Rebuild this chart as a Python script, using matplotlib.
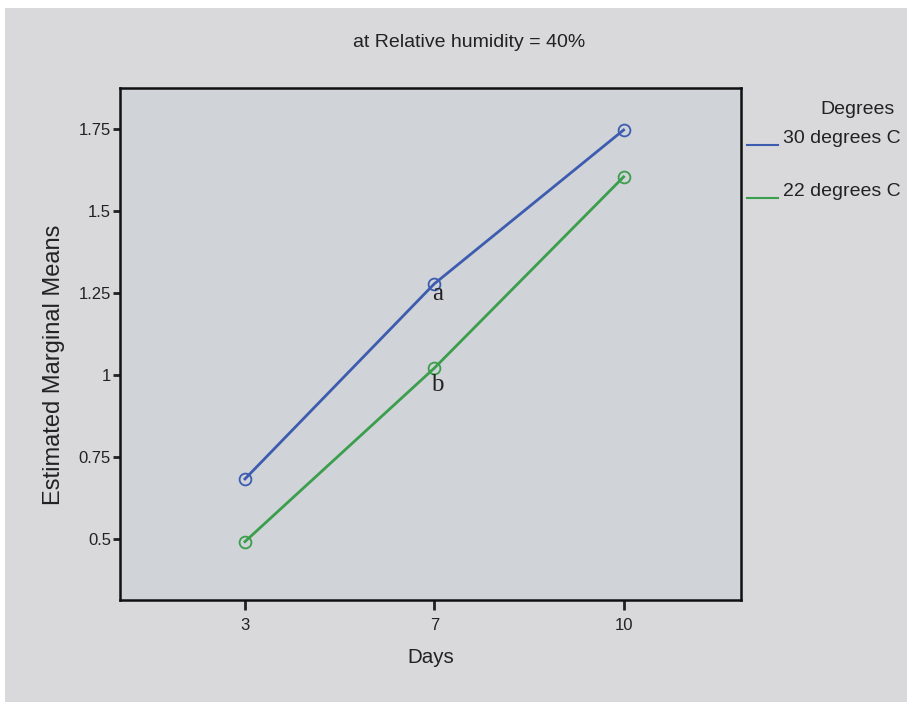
import numpy as np
import matplotlib.pyplot as plt
from matplotlib.lines import Line2D
from matplotlib.patches import Rectangle

# data
days = ["3", "7", "10"]
deg30 = [0.683, 1.278, 1.747]
deg22 = [0.492, 1.021, 1.604]
y_ticks = [0.5, 0.75, 1.0, 1.25, 1.5, 1.75]
y_ticklabels = ["0.5", "0.75", "1", "1.25", "1.5", "1.75"]
series_names = ["30 degrees C", "22 degrees C"]
series_colors = ["#3d5cb0", "#3b9e4c"]

plt.rcParams['font.family'] = ['Liberation Sans', 'DejaVu Sans']

W, H = 907, 702
fig = plt.figure(figsize=(W / 100, H / 100), dpi=100, facecolor="white")
# scanned page background
fig.patches.append(Rectangle((5 / W, 0), 1, 1 - 8 / H, transform=fig.transFigure,
                             facecolor="#d9d9dc", edgecolor="none", zorder=-10))

ax = fig.add_axes([120 / W, 102 / H, 621 / W, 512 / H])
ax.set_facecolor("#d0d3d7")

x = np.arange(len(days))
for vals, c in zip([deg30, deg22], series_colors):
    ax.plot(x, vals, color=c, lw=2, marker="o", markersize=8.5,
            markerfacecolor="none", markeredgecolor=c, markeredgewidth=1.3)

# letters marking the day 7 means
ax.annotate("a", (x[1], deg30[1]), xytext=(3, -10), textcoords="offset pixels",
            family="Liberation Serif", fontsize=18, ha="center", va="center",
            color="#222222")
ax.annotate("b", (x[1], deg22[1]), xytext=(3, -17), textcoords="offset pixels",
            family="Liberation Serif", fontsize=18, ha="center", va="center",
            color="#222222")

ax.set_xlim(-0.66, 2.62)
ax.set_ylim(0.314, 1.875)
ax.set_xticks(x)
ax.set_xticklabels(days)
ax.set_yticks(y_ticks)
ax.set_yticklabels(y_ticklabels)
ax.tick_params(axis="both", direction="out", width=2, labelsize=12, colors="#222222")
ax.tick_params(axis="x", length=7, pad=6)
ax.tick_params(axis="y", length=5, pad=1.5)
for s in ax.spines.values():
    s.set_linewidth(1.8)
    s.set_color("#111111")

ax.set_xlabel("Days", fontsize=14.8, labelpad=11, color="#222222")
ax.set_ylabel("Estimated Marginal Means", fontsize=17, color="#222222")
ax.yaxis.set_label_coords(-0.088, 0.46)

fig.text(469 / W, 1 - 47 / H, "at Relative humidity = 40%", fontsize=14,
         ha="center", va="baseline", color="#222222")

# legend outside the plot, SPSS style
fig.text(858 / W, 1 - 114 / H, "Degrees", fontsize=14, ha="center",
         va="baseline", color="#222222")
for i, (name, c) in enumerate(zip(series_names, series_colors)):
    base = 143 + 53 * i
    yl = 1 - (base + 2) / H
    fig.add_artist(Line2D([747 / W, 778 / W], [yl, yl],
                          transform=fig.transFigure, color=c, lw=1.5))
    fig.text(783 / W, 1 - base / H, name, fontsize=14, ha="left", va="baseline",
             color="#222222")

fig.savefig("out.png", dpi=100, facecolor=fig.get_facecolor())
